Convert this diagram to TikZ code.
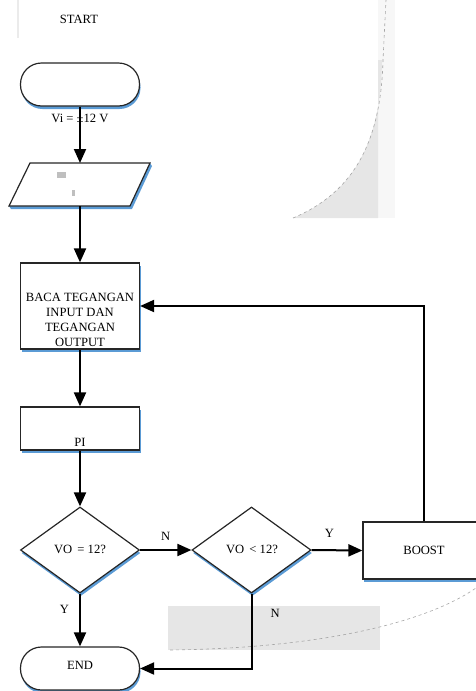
\documentclass[tikz,border=0pt]{standalone}
\usepackage{fontspec}
\setmainfont{Liberation Serif}
\usetikzlibrary{shapes.geometric,shadows,arrows.meta}
\definecolor{shblue}{HTML}{5B9BD5}
\definecolor{patch}{HTML}{E6E6E6}
\tikzset{
  shblk/.style={drop shadow={shadow xshift=1pt,shadow yshift=-3pt,fill=shblue,opacity=1}},
  base/.style={draw=black!85,line width=1.2pt,fill=white,inner sep=0pt,shblk},
  termbox/.style={base,rectangle,rounded corners=21pt,minimum width=119pt,minimum height=43pt},
  procbox/.style={base,rectangle,minimum width=119pt},
  decbox/.style={base,diamond,minimum width=119pt,minimum height=86pt,aspect=1.38},
  txt/.style={font=\fontsize{12.6}{15}\selectfont,inner sep=0pt,align=center},
  conn/.style={line width=2pt,-{Triangle[length=14pt,width=12pt]}},
  line/.style={line width=2pt}
}
\begin{document}
\begin{tikzpicture}[x=1pt,y=-1pt]
\useasboundingbox (0,0) rectangle (476,691);
% faint grey background patches
\fill[black!3] (378,0) rectangle (395,218);
\fill[patch] (293,218) .. controls (355,192) and (381,140) .. (382,60) -- (378,60) -- (378,218) -- cycle;
\draw[black!35,dashed,line width=0.6pt] (293,218) .. controls (355,192) and (381,140) .. (383,60) -- (386,0);
\fill[patch] (168,606) rectangle (380,650);
\draw[black!35,dashed,line width=0.6pt] (170,650) .. controls (330,648) and (430,620) .. (476,588);
\fill[black!8] (17,0) rectangle (19,38);

% nodes
\node[txt] (lstart) at (79,19) {START};
\node[termbox] (start) at (80,84.5) {};
\node[txt] (lvi) at (80,118) {Vi = ±12 V};

\coordinate (iotop) at (80,163);
\coordinate (iobot) at (80,206);
\fill[shblue] (11,209) -- (132,209) -- (152,166) -- (150,163) -- (130,206) -- (9,206) -- cycle;
\draw[black!85,line width=1.2pt,fill=white] (30,163) -- (150,163) -- (130,206) -- (9,206) -- cycle;
\fill[black!25] (57,172) rectangle (66,178);
\fill[black!25] (72,190) rectangle (75,196);

\node[procbox,minimum height=86pt] (baca) at (80,306) {};
\node[txt] (lbaca) at (80,320) {BACA TEGANGAN\\INPUT DAN\\TEGANGAN\\OUTPUT};

\node[procbox,minimum height=43pt] (pi) at (80,428.5) {};
\node[txt] (lpi) at (80,442) {PI};

\node[decbox] (d1) at (80,550) {};
\node[txt] (ld1) at (80,549) {VO \,= 12?};
\node[decbox] (d2) at (251.5,550) {};
\node[txt] (ld2) at (252,549) {VO \,< 12?};

\node[procbox,minimum width=114pt,minimum height=57pt] (boost) at (420,550.5) {};
\node[txt] (lboost) at (424,550) {BOOST};

\node[termbox] (endn) at (80,668.5) {};
\node[txt] (lend) at (80,665) {END};

% connectors
\draw[conn] (start.south) -- (iotop);
\draw[conn] (iobot) -- (baca.north);
\draw[conn] (baca.south) -- (pi.north);
\draw[conn] (pi.south) -- (d1.north);
\draw[conn] (d1.east) -- node[txt,above=9pt] {N} (d2.west);
\draw[conn] (d2.east) -- node[txt,above=12pt,pos=0.35] {Y} (boost.west);
\draw[conn] (d1.south) -- node[txt,left=10pt,pos=0.3] {Y} (endn.north);
\coordinate (bc) at (424,0);
\draw[conn] (boost.north -| bc) |- (baca.east);
\draw[conn] (d2.south) -- node[txt,right=18pt,pos=0.27] {N} (d2.south |- endn.east) -- (endn.east);
\end{tikzpicture}
\end{document}
